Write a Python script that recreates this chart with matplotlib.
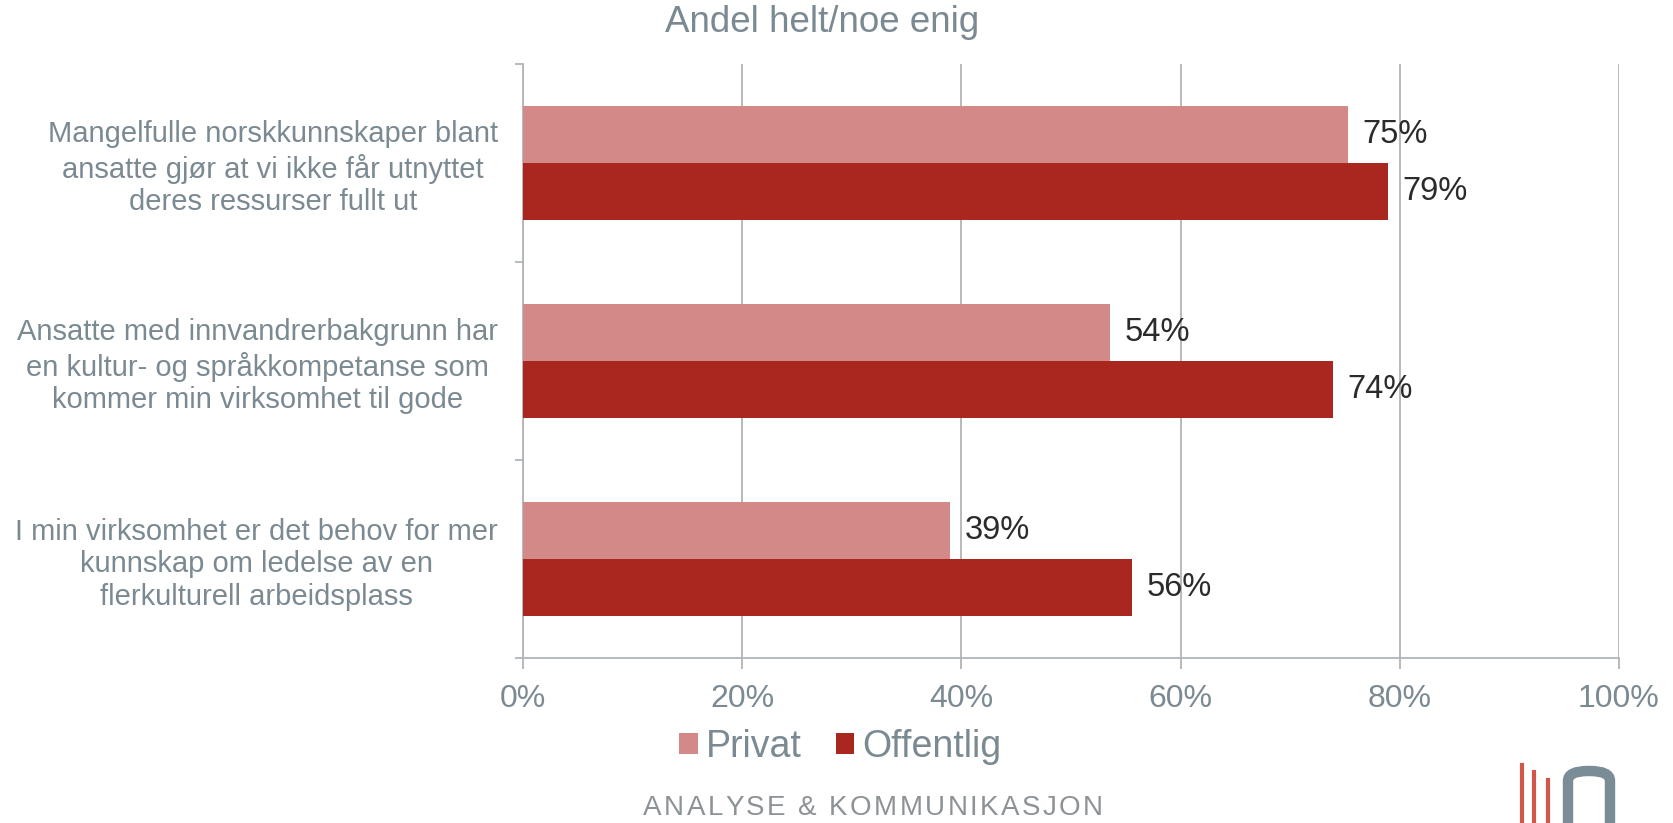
import numpy as np
import matplotlib
matplotlib.use("Agg")
import matplotlib.pyplot as plt
from matplotlib.patches import FancyBboxPatch
from matplotlib.lines import Line2D
from matplotlib.font_manager import FontProperties

categories = [
    "Mangelfulle norskkunnskaper blant\nansatte gjør at vi ikke får utnyttet\nderes ressurser fullt ut",
    "Ansatte med innvandrerbakgrunn har\nen kultur- og språkkompetanse som\nkommer min virksomhet til gode",
    "I min virksomhet er det behov for mer\nkunnskap om ledelse av en\nflerkulturell arbeidsplass",
]
privat = [75.3, 53.6, 39.0]
offentlig = [78.9, 73.9, 55.6]
privat_labels = ["75%", "54%", "39%"]
offentlig_labels = ["79%", "74%", "56%"]
x_ticks = [0, 20, 40, 60, 80, 100]
footer = "ANALYSE & KOMMUNIKASJON"

c_priv = "#D38987"
c_off = "#AA2720"
grid_c = "#B0B5BA"
txt_c = "#7B8A92"

plt.rcParams['font.family'] = ['Liberation Sans', 'DejaVu Sans']

W, H = 1674, 823
fig = plt.figure(figsize=(W / 100, H / 100), dpi=100)
ax = fig.add_axes([523 / W, 1 - 658 / H, (1619 - 523) / W, (658 - 64) / H])

y = np.arange(len(categories))
bh = 0.29
ax.barh(y - bh / 2, privat, height=bh, color=c_priv, label="Privat", zorder=3)
ax.barh(y + bh / 2, offentlig, height=bh, color=c_off, label="Offentlig", zorder=3)

for i in range(len(categories)):
    ax.text(privat[i] + 1.3, y[i] - bh / 2, privat_labels[i], va="center", ha="left",
            fontsize=23.5, color="#2B2B2B")
    ax.text(offentlig[i] + 1.3, y[i] + bh / 2, offentlig_labels[i], va="center", ha="left",
            fontsize=23.5, color="#2B2B2B")

ax.set_xlim(0, 100)
ax.set_ylim(2.5, -0.5)
ax.set_xticks(x_ticks)
ax.set_xticklabels([f"{t}%" for t in x_ticks], fontsize=23, color=txt_c)
ax.tick_params(axis="x", length=8, width=1.3, color=grid_c, pad=11)

# category labels on minor ticks, boundary tick marks on major ones
ax.set_yticks([-0.5, 0.5, 1.5, 2.5])
ax.set_yticklabels([])
ax.tick_params(axis="y", which="major", length=6, width=1.3, color=grid_c)
ax.set_yticks(y, minor=True)
ax.set_yticklabels(categories, minor=True, fontsize=21, color=txt_c, linespacing=1.22,
                   multialignment="center")
ax.tick_params(axis="y", which="minor", length=0, pad=18)

ax.grid(axis="x", color=grid_c, linewidth=1.3, zorder=0)
for s in ["top", "right"]:
    ax.spines[s].set_visible(False)
for s in ["left", "bottom"]:
    ax.spines[s].set_color(grid_c)
    ax.spines[s].set_linewidth(1.3)

fig.text(0.491, 1 - 23 / H, "Andel helt/noe enig", ha="center", va="center",
         fontsize=26.5, color=txt_c)

fig.legend(loc="center", bbox_to_anchor=(0.502, 1 - 747 / H), ncol=2, frameon=False,
           fontsize=27, handlelength=0.5, handleheight=0.5, handletextpad=0.22,
           columnspacing=0.9, labelcolor=txt_c)

# letter-spaced footer, laid out char by char
fp = FontProperties(family="Liberation Sans", size=20)
renderer = fig.canvas.get_renderer()
widths = [renderer.get_text_width_height_descent(ch, fp, ismath=False)[0] for ch in footer]
track = 2.4
total = sum(widths) + track * (len(footer) - 1)
xpos = 873 - total / 2
for ch, w in zip(footer, widths):
    fig.text(xpos / W, 1 - 808 / H, ch, ha="left", va="center", fontproperties=fp,
             color="#8D9296")
    xpos += w + track

# logo
for lx, ly in [(1522, 765), (1534, 772), (1548, 780)]:
    fig.add_artist(Line2D([lx / W, lx / W], [0, 1 - ly / H], transform=fig.transFigure,
                          color="#D0574A", linewidth=3))
fig.add_artist(FancyBboxPatch((1568 / W, -40 / H), 42 / W, (823 - 771 + 40) / H,
                              boxstyle="round,pad=0,rounding_size=0.012",
                              transform=fig.transFigure, facecolor="none",
                              edgecolor="#7A8D96", linewidth=7.5))

fig.savefig("out.png", dpi=100)
